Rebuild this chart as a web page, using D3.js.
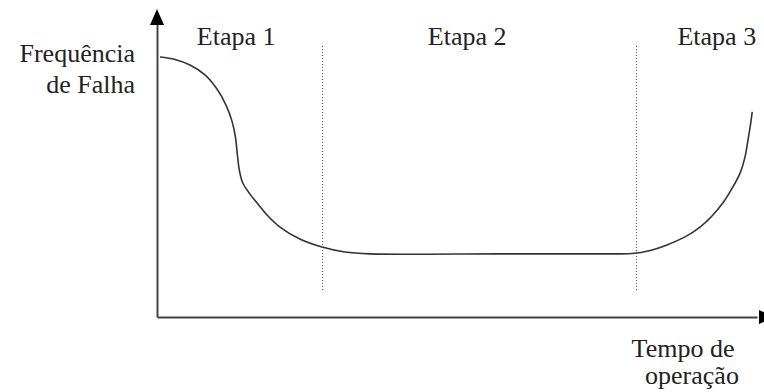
<!DOCTYPE html>
<html>
<head>
<meta charset="utf-8">
<script src="https://cdn.jsdelivr.net/npm/d3@7"></script>
<style>
body { margin: 0; background: #fff; }
svg text { font-family: "Liberation Serif", "Times New Roman", Times, Tinos, "Noto Serif", "DejaVu Serif", serif; }
</style>
</head>
<body>
<div id="chart"></div>
<script>
// ----------------------------------------------------------
// DATA -----------------------------------------------------
// ----------------------------------------------------------
// bathtub curve, time (0-100) vs failure frequency (0-100)
var curve_time = [0.5, 3.0, 5.5, 8.0, 10.0, 11.5, 12.5, 13.1, 13.4, 13.75, 14.3, 15.5, 16.7, 18.5, 20.5, 23.8, 27.5, 31.3, 35.5, 57.2, 75.5, 79.2, 82.2, 85.0, 88.0, 90.5, 92.5, 94.3, 95.8, 97.2, 98.0, 98.5, 98.9, 99.2];
var curve_freq = [84.4, 83.6, 81.8, 78.6, 74.0, 68.8, 63.6, 58.1, 52.6, 47.4, 43.5, 39.9, 37.0, 32.8, 29.2, 25.3, 22.7, 21.1, 20.5, 20.5, 20.5, 20.6, 21.6, 23.4, 26.0, 29.2, 32.8, 37.0, 41.6, 46.8, 51.9, 57.5, 62.3, 66.6];
// stage boundaries (time) and stage labels
var stage_bounds = [27.5, 79.8];
var stage_labels = ["Etapa 1", "Etapa 2", "Etapa 3"];
var stage_label_pos = [13.2, 51.7, 93.3];
var label_y = ["Frequência", "de Falha"];
var label_x = ["Tempo de", "operação"];

// ----------------------------------------------------------
// STRUCTURE ------------------------------------------------
// ----------------------------------------------------------
var width = 764, height = 392;
var svg = d3.select("#chart").append("svg")
  .attr("width", width)
  .attr("height", height);

var x = d3.scaleLinear().domain([0, 100]).range([157, 757]);
var y = d3.scaleLinear().domain([0, 100]).range([317, 9]);

var axis_color = "#444";

// ----------------------------------------------------------
// AXES -----------------------------------------------------
// ----------------------------------------------------------
var xAxis = svg.append("g")
  .attr("transform", "translate(0," + y(0) + ")")
  .call(d3.axisBottom(x).tickValues([]).tickSizeOuter(0));
xAxis.select(".domain").attr("stroke", axis_color).attr("stroke-width", 2);

var yAxis = svg.append("g")
  .attr("transform", "translate(" + x(0) + ",0)")
  .call(d3.axisLeft(y.copy().range([317, 22])).tickValues([]).tickSizeOuter(0));
yAxis.select(".domain").attr("stroke", axis_color).attr("stroke-width", 2);

// arrow heads
svg.append("path")
  .attr("d", "M" + x(0) + "," + y(100) + "L" + (x(0) - 7) + "," + (y(100) + 16) + "L" + (x(0) + 7) + "," + (y(100) + 16) + "Z")
  .attr("fill", "#000");
svg.append("path")
  .attr("d", "M" + (x(100) + 18) + "," + y(0) + "L" + (x(100) + 2) + "," + (y(0) - 7) + "L" + (x(100) + 2) + "," + (y(0) + 7) + "Z")
  .attr("fill", "#000");

// ----------------------------------------------------------
// GFX ------------------------------------------------------
// ----------------------------------------------------------
// stage separators
svg.selectAll(".stage_line")
  .data(stage_bounds)
  .enter().append("line")
  .attr("class", "stage_line")
  .attr("x1", function(d) { return Math.round(x(d)) + 0.5; })
  .attr("x2", function(d) { return Math.round(x(d)) + 0.5; })
  .attr("y1", y(88))
  .attr("y2", y(8.8))
  .attr("stroke", "#555")
  .attr("stroke-width", 1)
  .attr("stroke-dasharray", "1,2");

// curve
var points = curve_time.map(function(t, i) { return [t, curve_freq[i]]; });
svg.append("path")
  .datum(points)
  .attr("fill", "none")
  .attr("stroke", "#333")
  .attr("stroke-width", 1.6)
  .attr("d", d3.line()
    .curve(d3.curveCatmullRom.alpha(0.5))
    .x(function(d) { return x(d[0]); })
    .y(function(d) { return y(d[1]); }));

// ----------------------------------------------------------
// TEXT -----------------------------------------------------
// ----------------------------------------------------------
svg.selectAll(".stage_label")
  .data(stage_labels)
  .enter().append("text")
  .attr("class", "stage_label")
  .attr("x", function(d, i) { return x(stage_label_pos[i]); })
  .attr("y", 45)
  .attr("text-anchor", "middle")
  .style("font-size", "26px")
  .style("fill", "#222")
  .text(function(d) { return d; });

svg.selectAll(".label_y")
  .data(label_y)
  .enter().append("text")
  .attr("class", "label_y")
  .attr("x", 135)
  .attr("y", function(d, i) { return 62 + i * 31; })
  .attr("text-anchor", "end")
  .style("font-size", "26px")
  .style("fill", "#222")
  .text(function(d) { return d; });

svg.selectAll(".label_x")
  .data(label_x)
  .enter().append("text")
  .attr("class", "label_x")
  .attr("x", function(d, i) { return i === 0 ? 683 : 692; })
  .attr("y", function(d, i) { return 357 + i * 27; })
  .attr("text-anchor", "middle")
  .style("font-size", "26px")
  .style("fill", "#222")
  .text(function(d) { return d; });
</script>
</body>
</html>
